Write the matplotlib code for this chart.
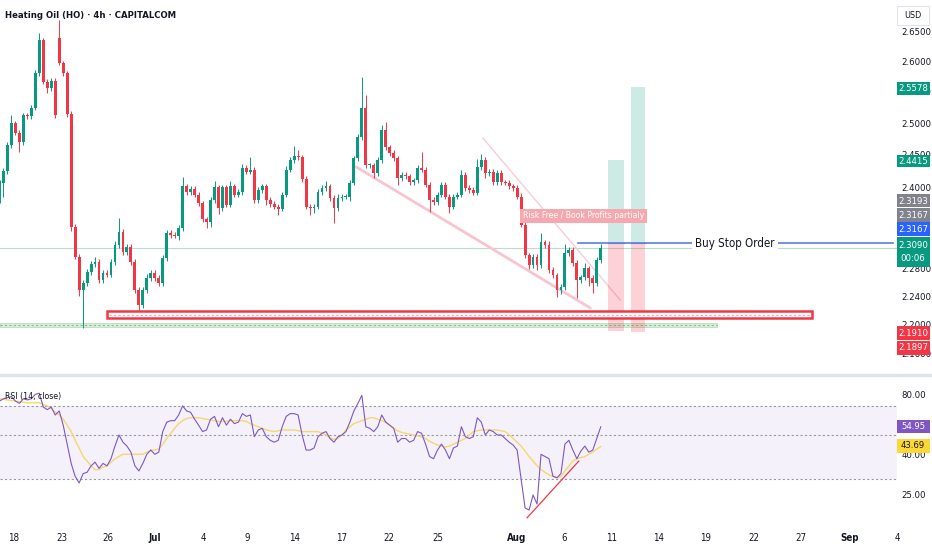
import matplotlib

matplotlib.use("Agg")

import matplotlib.pyplot as plt
import numpy as np
from matplotlib.patches import Rectangle
from matplotlib.ticker import NullLocator

plt.rcParams["font.family"] = ["Liberation Sans Narrow", "DejaVu Sans"]
plt.rcParams["font.stretch"] = "condensed"

# ---- data (4h bars, Heating Oil CAPITALCOM) ----
closes = [
    2.407, 2.425, 2.465, 2.500, 2.485, 2.470, 2.512, 2.511, 2.524, 2.580,
    2.635, 2.566, 2.556, 2.568, 2.512, 2.597, 2.580, 2.515, 2.341, 2.297,
    2.249, 2.259, 2.275, 2.286, 2.289, 2.263, 2.273, 2.271, 2.289, 2.314,
    2.333, 2.304, 2.311, 2.289, 2.249, 2.228, 2.249, 2.266, 2.273, 2.266,
    2.259, 2.295, 2.332, 2.329, 2.328, 2.339, 2.402, 2.393, 2.398, 2.389,
    2.376, 2.352, 2.348, 2.381, 2.400, 2.369, 2.400, 2.374, 2.402, 2.389,
    2.393, 2.430, 2.424, 2.427, 2.381, 2.396, 2.402, 2.381, 2.375, 2.371,
    2.368, 2.389, 2.427, 2.442, 2.448, 2.446, 2.413, 2.371, 2.369, 2.371,
    2.393, 2.399, 2.402, 2.384, 2.369, 2.384, 2.386, 2.386, 2.407, 2.445,
    2.478, 2.524, 2.434, 2.434, 2.422, 2.442, 2.489, 2.462, 2.453, 2.445,
    2.414, 2.419, 2.417, 2.408, 2.411, 2.430, 2.427, 2.404, 2.381, 2.378,
    2.389, 2.404, 2.386, 2.371, 2.386, 2.389, 2.419, 2.399, 2.396, 2.392,
    2.431, 2.442, 2.422, 2.424, 2.408, 2.422, 2.408, 2.407, 2.402, 2.399,
    2.386, 2.344, 2.299, 2.285, 2.297, 2.285, 2.318, 2.314, 2.278, 2.270,
    2.249, 2.253, 2.302, 2.307, 2.288, 2.263, 2.267, 2.280, 2.266, 2.259,
    2.292, 2.309,
]
first_open = 2.402
gap_opens = {15: 2.638}  # weekend gap up
# wick lengths beyond the body, in thousandths
wick_up = [
    5, 4, 5, 12, 4, 4, 4, 4, 4, 6,
    12, 4, 4, 4, 4, 31, 4, 4, 4, 4,
    4, 4, 4, 4, 8, 4, 4, 4, 4, 6,
    21, 4, 4, 4, 4, 4, 4, 6, 4, 4,
    4, 5, 4, 4, 4, 4, 14, 4, 4, 4,
    4, 4, 4, 4, 10, 4, 4, 4, 8, 4,
    4, 6, 4, 20, 4, 4, 4, 4, 4, 4,
    4, 4, 6, 4, 16, 10, 4, 4, 4, 4,
    4, 4, 8, 4, 4, 6, 4, 4, 4, 4,
    4, 50, 20, 4, 4, 4, 8, 12, 4, 4,
    4, 4, 4, 4, 4, 4, 25, 4, 4, 4,
    4, 4, 4, 4, 4, 4, 8, 4, 4, 4,
    12, 10, 4, 4, 4, 4, 4, 4, 4, 4,
    4, 5, 4, 4, 4, 4, 14, 4, 6, 4,
    4, 4, 14, 4, 4, 4, 4, 8, 4, 4,
    4, 6,
]
wick_dn = [
    25, 22, 5, 4, 4, 15, 4, 4, 4, 4,
    4, 4, 8, 4, 4, 4, 4, 5, 6, 4,
    8, 53, 4, 4, 4, 4, 4, 4, 4, 4,
    4, 4, 4, 4, 4, 8, 4, 4, 4, 4,
    4, 4, 4, 4, 4, 6, 4, 4, 4, 4,
    4, 4, 9, 8, 4, 9, 4, 4, 4, 4,
    4, 4, 4, 4, 4, 4, 4, 8, 4, 4,
    10, 4, 4, 4, 4, 4, 4, 4, 10, 8,
    4, 4, 4, 4, 22, 4, 4, 4, 6, 4,
    4, 4, 4, 4, 8, 4, 4, 4, 4, 4,
    10, 4, 4, 4, 4, 4, 4, 4, 18, 4,
    4, 4, 4, 10, 4, 4, 4, 4, 4, 4,
    4, 4, 8, 4, 4, 4, 4, 4, 4, 4,
    4, 4, 4, 6, 4, 8, 4, 4, 4, 4,
    10, 6, 4, 4, 4, 25, 4, 4, 12, 15,
    4, 4,
]
rsi = [
    74, 76, 77, 78, 74, 72, 76, 75, 76, 80,
    81, 69, 67, 69, 63, 66, 56, 45, 36, 31,
    28.7, 32, 32.5, 35, 36.5, 34, 36, 35, 38, 44,
    50, 46, 44, 41, 35, 33, 36, 40, 42, 40,
    41, 52, 58, 59, 59, 63, 70, 66, 65, 60,
    56, 52, 53, 60, 62, 55, 61, 56, 60, 57,
    58, 64, 62, 63, 49, 53, 54, 49, 47, 46,
    47, 55, 62, 64, 64, 63, 50, 42, 42, 43,
    49, 51, 52, 48, 46, 49, 50, 52, 58, 66,
    72, 79, 55, 54, 52, 55, 63, 58, 56, 54,
    46, 48, 48, 46, 47, 52, 51, 45, 39, 38,
    42, 45, 42, 38, 43, 44, 55, 49, 48, 49,
    61, 58, 50, 53, 52, 50, 50, 48, 46, 44.5,
    42, 30, 21.5, 21, 25, 22.5, 40, 39, 38, 31,
    30.5, 32, 45, 47, 42, 38, 41.5, 44, 41, 42,
    48, 54.95,
]
rsi_ma = [
    76, 75.5, 75, 74.5, 74, 73.5, 73, 72.5, 72.5, 72.5,
    72.5, 71, 70, 68, 65, 63, 60, 56, 52, 47,
    43, 39, 37, 35, 33.5, 33.5, 34.5, 35, 36.5, 38,
    39, 40, 40, 40, 40, 40, 40, 41, 42, 42,
    42.5, 45, 48, 51, 54, 57, 59, 60.5, 61, 61,
    61, 60.5, 60, 59.5, 59, 58.5, 58.5, 58.5, 59, 59,
    59, 59, 58.5, 57, 56, 55, 54, 53, 52.5, 52,
    52.5, 53, 53, 53, 53, 52.5, 52, 52, 52, 52,
    52, 51, 50, 48.5, 47.5, 48, 50, 53, 55, 57,
    58, 59, 60, 61, 61, 60, 59, 58, 56, 54,
    52.5, 51.5, 51, 50.5, 50, 49.5, 49, 48, 46.5, 45.5,
    44.5, 44, 43.5, 44, 45, 46, 47, 48, 50, 52,
    52.5, 53, 53, 53, 53, 53, 52.5, 52, 50, 48,
    46, 44, 41.5, 39, 37, 35, 33.5, 32.5, 31.5, 31,
    30.5, 31, 33, 35, 37, 38, 38.5, 39, 40, 41,
    42.5, 43.69,
]

date_labels = ["18", "23", "26", "Jul", "4", "9", "14", "17", "22", "25",
               "Aug", "6", "11", "14", "19", "22", "27", "Sep", "4"]
date_pos = [3.6, 15.6, 27.1, 38.9, 51.1, 62.1, 74.1, 85.9, 97.9, 110.1,
            129.9, 141.9, 153.6, 165.6, 177.4, 189.4, 201.4, 213.4, 225.4]

entry = 2.3167
target_a, stop_a = 2.4415, 2.1910
target_b, stop_b = 2.5578, 2.1897
last_price = 2.3090
support_top, support_bot = 2.2192, 2.2094
base_top, base_bot = 2.2023, 2.1969
chan_low = [(89.6, 2.4313), (148.4, 2.2234)]
chan_high = [(121.4, 2.4763), (155.9, 2.2347)]
rsi_trend = [(132.5, 19.2), (145.5, 37.0)]

UP, DN = "#089981", "#f23645"
W, H = 932, 550

fig = plt.figure(figsize=(W / 100, H / 100), dpi=100)
ax = fig.add_axes([0, 1 - 372 / H, 897 / W, 372 / H])
ax2 = fig.add_axes([0, 1 - 522 / H, 897 / W, 144 / H], sharex=ax)

x = np.arange(len(closes))
c = np.array(closes)
o = np.array([first_open] + closes[:-1])
for k, v in gap_opens.items():
    o[k] = v
hi = np.maximum(o, c) + np.array(wick_up) / 1000
lo = np.minimum(o, c) - np.array(wick_dn) / 1000
col = np.where(c >= o, UP, DN)

ax.vlines(x, lo, hi, colors=col, lw=0.7, zorder=3)
body = np.maximum(np.abs(c - o), 0.0012)
ax.bar(x, body, bottom=np.minimum(o, c), width=0.72, color=col, zorder=4, linewidth=0)

ax.set_yscale("log")
ax.set_ylim(2.1351, 2.7027)
ax.set_xlim(0.125, 224.375)

# last price line
ax.axhline(last_price, color="#b9dcd8", lw=0.8, zorder=1)

# falling channel
ax.plot(*zip(*chan_low), color="#f8c4d0", lw=2.0, zorder=2, solid_capstyle="round")
ax.plot(*zip(*chan_high), color="#f8ccd4", lw=1.0, zorder=2)

# support zone + base line
ax.add_patch(Rectangle((27.1, support_bot), 204.1 - 27.1, support_top - support_bot,
                       facecolor="white", edgecolor=DN, lw=1.8, zorder=5))
ax.plot([27.4, 203.8], [(support_top * support_bot) ** 0.5] * 2, color="#f7a7ae",
        lw=0.8, ls=(0, (2, 2)), zorder=6)
ax.add_patch(Rectangle((0.125, base_bot), 180.1, base_top - base_bot,
                       facecolor="#d9efdc", edgecolor="#b9dcc0", lw=0.6, zorder=2))
ax.plot([0.125, 180.2], [(base_top * base_bot) ** 0.5] * 2, color="#7fc18e",
        lw=0.8, ls=(0, (2, 2)), zorder=2)

# long position boxes
for (x0, x1, tgt, stp) in [(152.9, 156.9, target_a, stop_a), (158.6, 162.1, target_b, stop_b)]:
    ax.add_patch(Rectangle((x0, entry), x1 - x0, tgt - entry, facecolor=UP, alpha=0.2, lw=0, zorder=2))
    ax.add_patch(Rectangle((x0, stp), x1 - x0, entry - stp, facecolor=DN, alpha=0.22, lw=0, zorder=2))
    ax.plot([x0, x1], [entry, entry], color="#8a8e9a", lw=0.8, zorder=3)

# buy stop order line
ax.plot([145.4, 224.375], [entry, entry], color="#5b7be6", lw=1.2, zorder=6)
ax.text(184.75, entry, "Buy Stop Order", ha="center", va="center", fontsize=8.3,
        color="#131722", zorder=7,
        bbox=dict(boxstyle="square,pad=0.3", facecolor="white", edgecolor="none"))
ax.text(146.6, 2.357, "Risk Free / Book Profits partialy", ha="center", va="center",
        fontsize=6.2, color="white", zorder=7,
        bbox=dict(boxstyle="square,pad=0.3", facecolor="#f7a8ae", edgecolor="none"))

ax.yaxis.tick_right()
ticks = [2.65, 2.60, 2.55, 2.50, 2.45, 2.40, 2.28, 2.24, 2.20, 2.16]
ax.set_yticks(ticks)
ax.set_yticklabels([f"{t:.4f}" for t in ticks])
ax.yaxis.set_minor_locator(NullLocator())
ax.tick_params(axis="y", length=0, pad=3, labelsize=6.8, labelcolor="#131722")
ax.tick_params(axis="x", length=0, labelbottom=False)
for s in ax.spines.values():
    s.set_visible(False)

# ---- RSI pane ----
ax2.set_yscale("log")
ax2.set_ylim(18.29, 96.6)
ax2.axhspan(30, 70, color="#7e57c2", alpha=0.08, lw=0, zorder=0)
for lvl in (70, 50, 30):
    ax2.axhline(lvl, color="#9598a1", lw=0.8, ls=(0, (2, 2)), zorder=1)
ax2.plot(x, rsi_ma, color="#f5d76e", lw=1.0, zorder=2)
ax2.plot(x, rsi, color="#7e57c2", lw=0.8, zorder=3)
ax2.plot(*zip(*rsi_trend), color="#f23645", lw=0.9, zorder=4)
ax2.yaxis.tick_right()
ax2.set_yticks([80, 40, 25])
ax2.set_yticklabels(["80.00", "40.00", "25.00"])
ax2.yaxis.set_minor_locator(NullLocator())
ax2.tick_params(axis="y", length=0, pad=3, labelsize=6.8, labelcolor="#131722")
ax2.set_xticks(date_pos)
ax2.set_xticklabels(date_labels)
ax2.tick_params(axis="x", length=0, pad=8, labelsize=7, labelcolor="#131722")
for lab in ax2.get_xticklabels():
    if lab.get_text() in ("Jul", "Aug", "Sep"):
        lab.set_fontweight("bold")
for s in ax2.spines.values():
    s.set_visible(False)

# pane separator
fig.add_artist(plt.Line2D([0, 1], [1 - 375 / H] * 2, color="#e0e3eb", lw=2.5))


# ---- labels on the price scale ----
def tag(ypx, h, text, face, fg="white"):
    fig.add_artist(Rectangle((897 / W, 1 - (ypx + h / 2) / H), 33 / W, h / H,
                             transform=fig.transFigure, facecolor=face, edgecolor="none", zorder=10))
    fig.text(913 / W, 1 - ypx / H, text, ha="center", va="center", fontsize=6.8,
             color=fg, zorder=11, linespacing=1.5)


tag(88.5, 12, f"{target_b:.4f}", UP)
tag(161, 12, f"{target_a:.4f}", UP)
tag(201, 13, "2.3193", "#80838c")
tag(215, 13, f"{entry:.4f}", "#80838c")
tag(229.5, 14, f"{entry:.4f}", "#2962ff")
tag(252, 30, f"{last_price:.4f}\n00:06", UP)
tag(333, 14, f"{stop_a:.4f}", DN)
tag(347.5, 14, f"{stop_b:.4f}", DN)
tag(426.5, 13, f"{rsi[-1]:.2f}", "#7e57c2")
tag(446, 14, f"{rsi_ma[-1]:.2f}", "#fdd835", fg="#131722")

fig.add_artist(Rectangle((897 / W, 1 - 25 / H), 32 / W, 19 / H, transform=fig.transFigure,
                         facecolor="white", edgecolor="#e0e3eb", lw=0.8, zorder=10))
fig.text(913 / W, 1 - 15.5 / H, "USD", ha="center", va="center", fontsize=6.5,
         color="#131722", zorder=11)

fig.text(5 / W, 1 - 16 / H, "Heating Oil (HO) · 4h · CAPITALCOM", ha="left", va="center",
         fontsize=6.8, fontweight="bold", color="#131722")
fig.text(5 / W, 1 - 396 / H, "RSI (14, close)", ha="left", va="center", fontsize=6.3,
         color="#131722")

fig.savefig("out.png", dpi=100, facecolor="white")
